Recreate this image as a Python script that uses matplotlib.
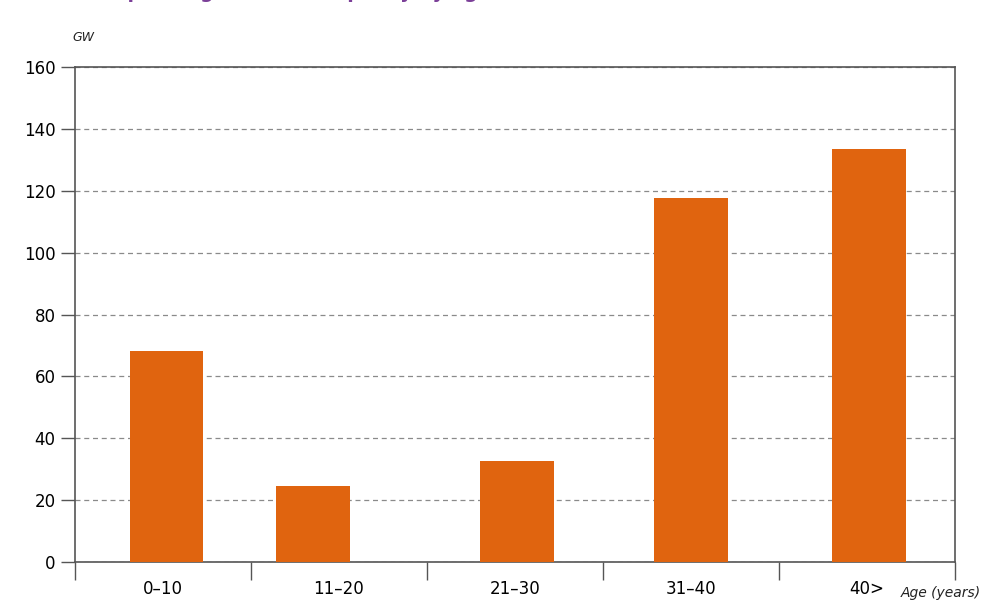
import matplotlib
matplotlib.use('Agg')
import matplotlib.pyplot as plt
import numpy as np

# capacity by age group, GW
age_groups = ['0\u201310', '11\u201320', '21\u201330', '31\u201340', '40>']
capacity_gw = [68.2, 24.7, 32.7, 117.6, 133.4]
y_ticks = [0, 20, 40, 60, 80, 100, 120, 140, 160]

title = 'Nuclear power generation capacity by age'
bar_color = '#E0640F'
axis_color = '#555555'

plt.rcParams['font.family'] = ['Liberation Sans Narrow', 'DejaVu Sans']

fig = plt.figure(figsize=(9.86, 6.09), dpi=100)
ax = fig.add_axes([0.076, 0.077, 0.8926, 0.813])

x = np.arange(len(age_groups))
# second bar sits a little left of its slot in the original
shift = np.array([0.02, -0.15, 0.01, 0.0, 0.01])
ax.bar(x + shift, capacity_gw, width=0.42, color=bar_color, zorder=3)

ax.set_xlim(-0.5, len(age_groups) - 0.5)
ax.set_ylim(0, 160)
ax.set_yticks(y_ticks)
ax.set_yticklabels([str(v) for v in y_ticks], fontsize=12)

# labels in the middle of each slot, tick marks on the slot borders
ax.set_xticks(x)
ax.set_xticklabels(age_groups, fontsize=12)
ax.tick_params(axis='x', which='major', length=0, pad=13)
ax.set_xticks(np.arange(len(age_groups) + 1) - 0.5, minor=True)
ax.tick_params(axis='x', which='minor', length=13, width=1, color=axis_color, direction='out')
ax.tick_params(axis='y', length=10, width=1, color=axis_color, direction='out', pad=4)

ax.yaxis.grid(True, linestyle=(0, (4, 3)), color='#8a8a8a', linewidth=0.9, zorder=0)
for s in ax.spines.values():
    s.set_color(axis_color)
    s.set_linewidth(1.2)

fig.text(0.073, 0.932, 'GW', fontsize=9, style='italic', color='#222222')
fig.text(0.914, 0.02, 'Age (years)', fontsize=10, style='italic', color='#222222')
# the title is cropped off the top in the original; only its descenders show
fig.text(0.040, 1.003, title, fontsize=13.6, fontweight='bold', color='#7B3F98', va='baseline')

fig.savefig('out.png', dpi=100)
